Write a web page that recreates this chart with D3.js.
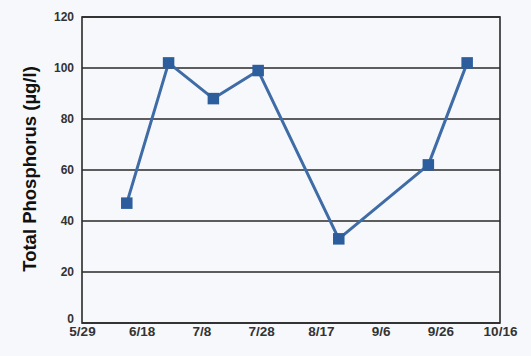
<!DOCTYPE html>
<html>
<head>
<meta charset="utf-8">
<script src="https://cdn.jsdelivr.net/npm/d3@7"></script>
<style>
  html, body { margin: 0; padding: 0; background: #f6f8fb; }
  svg { display: block; }
  text { font-family: "Liberation Sans", Arial, sans-serif; font-weight: bold; }
</style>
</head>
<body>
<svg id="chart" width="531" height="356"></svg>
<script>
// ---- data ----
const sampleDates = ["6/13", "6/27", "7/12", "7/27", "8/23", "9/22", "10/5"];
const phosphorus = [47, 102, 88, 99, 33, 62, 102];
const xTickLabels = ["5/29", "6/18", "7/8", "7/28", "8/17", "9/6", "9/26", "10/16"];
const yTickValues = [0, 20, 40, 60, 80, 100, 120];
const yAxisTitle = "Total Phosphorus (µg/l)";
const year = 2013;

const parseMD = s => { const [m, d] = s.split("/").map(Number); return new Date(year, m - 1, d); };

const svg = d3.select("#chart");
const margin = { left: 82, right: 31, top: 17, bottom: 33 };
const W = 531, H = 356;
const x = d3.scaleTime()
  .domain([parseMD(xTickLabels[0]), parseMD(xTickLabels[xTickLabels.length - 1])])
  .range([margin.left, W - margin.right]);
const y = d3.scaleLinear().domain([0, 120]).range([H - margin.bottom, margin.top]);

const dark = "#2a2a2a";

// gridlines
svg.append("g").selectAll("line").data(yTickValues).join("line")
  .attr("x1", x.range()[0]).attr("x2", x.range()[1])
  .attr("y1", d => y(d)).attr("y2", d => y(d))
  .attr("stroke", dark).attr("stroke-width", 1.4);

// frame
svg.append("rect")
  .attr("x", x.range()[0]).attr("y", y(120))
  .attr("width", x.range()[1] - x.range()[0]).attr("height", y(0) - y(120))
  .attr("fill", "none").attr("stroke", dark).attr("stroke-width", 1.6);

// y axis
const yAxis = d3.axisLeft(y).tickValues(yTickValues).tickSize(0).tickPadding(8);
const gy = svg.append("g").attr("transform", `translate(${x.range()[0]},0)`).call(yAxis);
gy.select(".domain").remove();
gy.selectAll("text").attr("font-size", 12).attr("fill", "#333")
  .style("font-family", "'Liberation Sans', Arial, sans-serif").style("font-weight", "bold")
  .attr("dy", d => d === 0 ? "-0.05em" : "0.32em");

// x axis
const xAxis = d3.axisBottom(x).tickValues(xTickLabels.map(parseMD))
  .tickFormat(d => `${d.getMonth() + 1}/${d.getDate()}`).tickSize(0).tickPadding(3);
const gx = svg.append("g").attr("transform", `translate(0,${y(0)})`).call(xAxis);
gx.select(".domain").remove();
gx.selectAll("text").attr("font-size", 13.5).attr("fill", "#333")
  .style("font-family", "'Liberation Sans', Arial, sans-serif").style("font-weight", "bold");

// y title
svg.append("text")
  .attr("transform", `translate(36,${(y(0) + y(120)) / 2 - 1}) rotate(-90)`)
  .attr("text-anchor", "middle")
  .attr("font-size", 18.5)
  .attr("fill", "#111")
  .text(yAxisTitle);

// line
const data = sampleDates.map((d, i) => ({ date: parseMD(d), value: phosphorus[i] }));
svg.append("path").datum(data)
  .attr("fill", "none").attr("stroke", "#3f6ca6").attr("stroke-width", 3)
  .attr("stroke-linejoin", "round")
  .attr("d", d3.line().x(d => x(d.date)).y(d => y(d.value)));

// markers
const ms = 11.5;
svg.append("g").selectAll("rect").data(data).join("rect")
  .attr("x", d => x(d.date) - ms / 2).attr("y", d => y(d.value) - ms / 2)
  .attr("width", ms).attr("height", ms)
  .attr("fill", "#2c5d9c");
</script>
</body>
</html>
